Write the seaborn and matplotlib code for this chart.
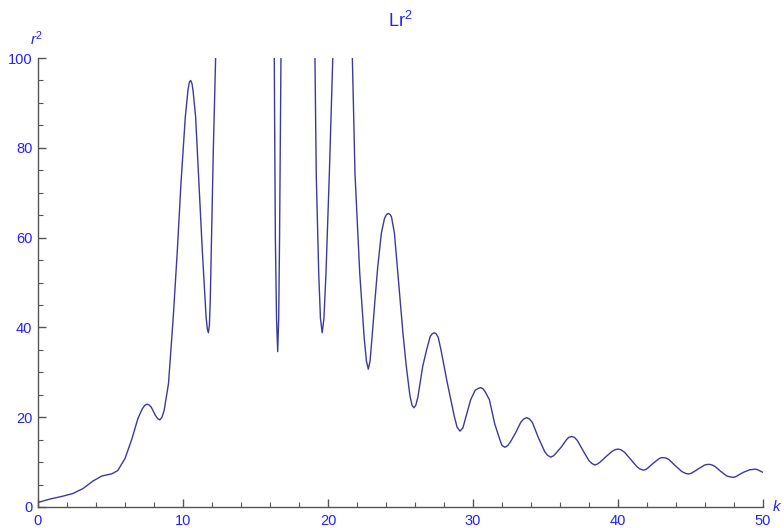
import matplotlib
matplotlib.use("Agg")
import matplotlib.pyplot as plt
import seaborn as sns
import pandas as pd
from matplotlib.ticker import MultipleLocator

# ---- data ----
k_vals = [0.0, 0.8, 1.7, 2.4, 3.1, 3.8, 4.4, 5.1, 5.5, 6.0, 6.45, 6.9, 7.2, 7.35, 7.5,
          7.65, 7.8, 8.1, 8.25, 8.4, 8.55, 8.7, 9.0, 9.33, 9.61, 9.86, 10.16, 10.35,
          10.44, 10.53, 10.62, 10.7, 10.87, 11.1, 11.33, 11.59, 11.68, 11.75, 11.82,
          11.88, 11.95, 12.09, 12.25, 12.4, 14.3, 16.2, 16.28, 16.32, 16.37, 16.45,
          16.53, 16.60, 16.66, 16.72, 16.78, 17.9, 19.05, 19.1, 19.19, 19.36, 19.48,
          19.6, 19.72, 19.86, 20.09, 20.33, 20.4, 21.0, 21.62, 21.68, 21.86, 22.19,
          22.5, 22.65, 22.78, 22.9, 23.06, 23.24, 23.43, 23.68, 23.9, 24.03, 24.16,
          24.29, 24.38, 24.58, 24.78, 24.97, 25.17, 25.4, 25.65, 25.8, 25.93, 26.06,
          26.2, 26.53, 26.8, 27.05, 27.2, 27.33, 27.45, 27.6, 27.79, 28.23, 28.71,
          28.9, 29.1, 29.3, 29.52, 29.84, 30.15, 30.35, 30.53, 30.7, 30.85, 31.13,
          31.5, 31.85, 32.0, 32.2, 32.4, 32.6, 32.95, 33.3, 33.5, 33.7, 33.9, 34.1,
          34.5, 34.95, 35.15, 35.36, 35.55, 35.7, 36.1, 36.45, 36.6, 36.8, 37.0, 37.2,
          37.6, 38.0, 38.2, 38.4, 38.6, 38.8, 39.2, 39.6, 39.8, 40.0, 40.2, 40.45,
          40.9, 41.3, 41.5, 41.75, 41.95, 42.1, 42.45, 42.8, 42.95, 43.1, 43.3, 43.5,
          43.95, 44.4, 44.65, 44.85, 45.05, 45.2, 45.6, 45.95, 46.1, 46.3, 46.5, 46.7,
          47.1, 47.5, 47.75, 47.95, 48.15, 48.3, 48.7, 49.1, 49.3, 49.45, 49.6, 49.75,
          50.0]
r2_vals = [1.0, 1.75, 2.4, 3.0, 4.1, 5.8, 6.9, 7.4, 8.1, 10.8, 14.9, 19.8, 21.9, 22.6, 22.9,
           22.75, 22.3, 20.4, 19.7, 19.4, 20.0, 21.5, 27.5, 42.4, 57.2, 72.1, 86.9, 93.0,
           94.6, 95.0, 94.3, 92.5, 86.9, 72.1, 57.2, 42.4, 39.6, 38.8, 40.5,
           46.0, 57.2, 79.4, 100.0, 130.0, 400.0, 130.0, 110.0, 85.0, 60.0, 42.0,
           34.6, 42.0, 60.0, 85.0, 110.0, 300.0, 110.0, 100.0, 74.0, 52.0, 42.0,
           38.8, 42.0, 52.0, 74.0, 100.0, 110.0, 200.0, 110.0, 100.0, 74.3, 52.0,
           37.5, 32.5, 30.7, 32.5, 38.7, 46.1, 53.5, 61.0, 64.3, 65.1, 65.4,
           65.1, 64.6, 61.0, 53.5, 46.1, 38.7, 31.3, 24.8, 22.6, 22.1, 22.7,
           24.5, 31.3, 35.0, 38.0, 38.6, 38.8, 38.6, 37.8, 35.0, 27.6, 20.2,
           17.8, 16.9, 17.6, 20.2, 23.9, 26.0, 26.4, 26.6, 26.3, 25.6, 23.9,
           18.5, 15.0, 13.7, 13.3, 13.7, 14.6, 16.6, 18.9, 19.6, 19.9, 19.6, 18.8,
           15.5, 12.3, 11.5, 11.1, 11.4, 11.9, 13.4, 15.0, 15.5, 15.7, 15.5, 14.8,
           12.5, 10.3, 9.7, 9.35, 9.6, 10.1, 11.3, 12.4, 12.75, 12.9, 12.75, 12.2,
           10.5, 9.0, 8.5, 8.2, 8.4, 8.8, 9.8, 10.7, 10.95, 11.0, 10.9, 10.6,
           9.2, 7.9, 7.5, 7.35, 7.5, 7.8, 8.6, 9.3, 9.45, 9.5, 9.35, 9.0,
           7.9, 6.9, 6.7, 6.6, 6.8, 7.1, 7.8, 8.3, 8.35, 8.45, 8.35, 8.1,
           7.7]

x_ticks = [0, 10, 20, 30, 40, 50]
y_ticks = [0, 20, 40, 60, 80, 100]

df = pd.DataFrame({"k": k_vals, "r2": r2_vals})

sns.set_style("white")
plt.rcParams["font.family"] = ["Liberation Sans", "DejaVu Sans"]
plt.rcParams["mathtext.fontset"] = "custom"
plt.rcParams["mathtext.rm"] = "Liberation Sans"
plt.rcParams["mathtext.it"] = "Liberation Sans:italic"

W, H = 784, 528
fig = plt.figure(figsize=(W / 100, H / 100), dpi=100)
ax = fig.add_axes([38 / W, 1 - 507 / H, (763 - 38) / W, (507 - 58) / H])

line_color = "#3a3a9c"
label_color = "#2222ff"
axis_color = "#555555"

sns.lineplot(data=df, x="k", y="r2", ax=ax, color=line_color, linewidth=1.0,
             estimator=None, sort=False)

ax.set_xlim(0, 50)
ax.set_ylim(0, 100)
ax.set_xlabel("")
ax.set_ylabel("")
ax.set_xticks(x_ticks)
ax.set_yticks(y_ticks)
ax.xaxis.set_minor_locator(MultipleLocator(2))
ax.yaxis.set_minor_locator(MultipleLocator(5))

for s in ["top", "right"]:
    ax.spines[s].set_visible(False)
for s in ["left", "bottom"]:
    ax.spines[s].set_color(axis_color)
    ax.spines[s].set_linewidth(1.0)

ax.tick_params(which="both", bottom=True, left=True, top=False, right=False)
ax.tick_params(which="major", direction="in", length=6, width=1.0, color=axis_color,
               labelcolor=label_color, labelsize=10.5, pad=5)
ax.tick_params(which="minor", direction="in", length=3.5, width=0.8, color=axis_color)
ax.tick_params(axis="y", which="major", pad=4)

fig.text(400 / W, 1 - 27 / H, r"$\mathrm{Lr}^{2}$", ha="center", va="baseline",
         fontsize=13, color=label_color)
fig.text(37 / W, 1 - 45 / H, r"$r^{2}$", ha="center", va="baseline",
         fontsize=11, color=label_color)
fig.text(772 / W, 1 - 511 / H, r"$k$", ha="left", va="baseline",
         fontsize=11, color=label_color)

fig.savefig("out.png", dpi=100)
